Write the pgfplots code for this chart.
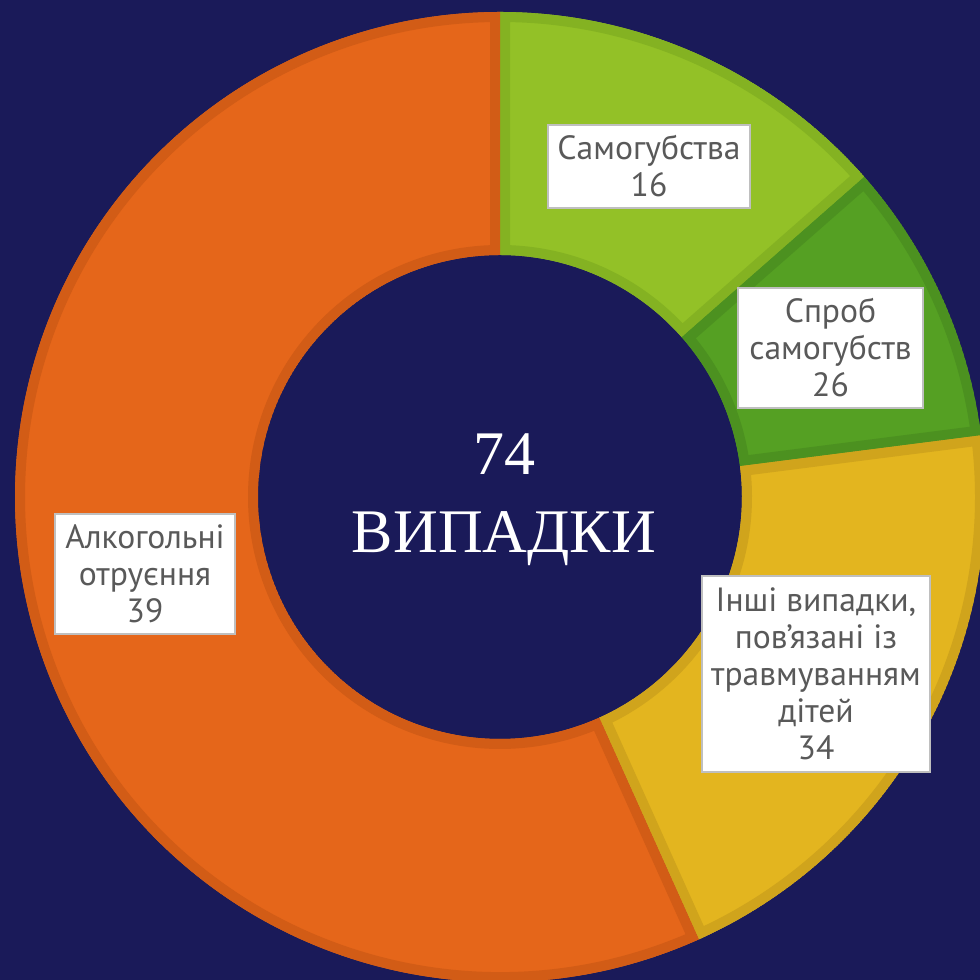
\documentclass[border=0pt]{standalone}
\usepackage{pgfplots}
\pgfplotsset{compat=1.18}
\usepackage{pgfplotstable}
\usepackage{fontspec}
\setmainfont{PT Sans}
\newfontfamily\serifcyr{Liberation Serif}

\definecolor{bgnavy}{RGB}{26,26,89}
\definecolor{orangeA}{RGB}{229,102,26}
\definecolor{orangeB}{RGB}{210,92,22}
\definecolor{limeA}{RGB}{147,193,39}
\definecolor{limeB}{RGB}{132,178,34}
\definecolor{greenA}{RGB}{85,160,35}
\definecolor{greenB}{RGB}{76,145,32}
\definecolor{yellowA}{RGB}{227,181,31}
\definecolor{yellowB}{RGB}{208,164,28}
\definecolor{labelgray}{RGB}{89,89,89}
\definecolor{boxedge}{RGB}{191,191,191}

\tikzset{lbl/.style={fill=white, draw=boxedge, line width=0.8pt, inner sep=0pt,
    align=center, text=labelgray, font=\fontsize{16.8}{18.5}\selectfont}}

% slices clockwise from 12 o'clock, angles (deg) as drawn in the picture
\pgfplotstableread{
start  end    fill     edge
90     41.3   limeA    limeB
41.3   7.3    greenA   greenB
7.3    -65.8  yellowA  yellowB
-65.8  -270   orangeA  orangeB
}\slices

% ring: centre (500,483) in axis units, 1 unit = 0.5pt
\newcommand\drawslice[4]{%
  \begin{scope}
    \clip (axis cs:500,483) ++(#1:242.5pt) arc[start angle=#1, end angle=#2, radius=242.5pt]
      -- ++(#2+180:121.5pt) arc[start angle=#2, end angle=#1, radius=121pt] -- cycle;
    \path[fill=#3, draw=#4, line width=10pt]
      (axis cs:500,483) ++(#1:242.5pt) arc[start angle=#1, end angle=#2, radius=242.5pt]
      -- ++(#2+180:121.5pt) arc[start angle=#2, end angle=#1, radius=121pt] -- cycle;
  \end{scope}}

\begin{document}
\begin{tikzpicture}
\fill[bgnavy] (0,0) rectangle (490pt,490pt);
\useasboundingbox (0,0) rectangle (490pt,490pt);
\begin{axis}[
    at={(0,0)}, anchor=south west,
    width=490pt, height=490pt, scale only axis,
    xmin=0, xmax=980, ymin=0, ymax=980,
    hide axis,
]
\pgfplotsextra{%
  \pgfplotstablegetrowsof{\slices}%
  \pgfmathtruncatemacro\nlast{\pgfplotsretval-1}%
  \pgfplotsforeachungrouped \i in {0,...,\nlast}{%
    \pgfplotstablegetelem{\i}{start}\of\slices\let\sa\pgfplotsretval
    \pgfplotstablegetelem{\i}{end}\of\slices\let\sb\pgfplotsretval
    \pgfplotstablegetelem{\i}{fill}\of\slices\let\sc\pgfplotsretval
    \pgfplotstablegetelem{\i}{edge}\of\slices\let\sd\pgfplotsretval
    \drawslice{\sa}{\sb}{\sc}{\sd}%
  }%
}

\node[lbl, minimum width=101pt, minimum height=41.5pt] at (axis cs:649,813.5) {Самогубства\\16};
\node[lbl, minimum width=92.5pt, minimum height=60pt] at (axis cs:830.5,632) {Спроб\\самогубств\\26};
\node[lbl, minimum width=114pt, minimum height=98pt] at (axis cs:816,306) {Інші випадки,\\пов’язані із\\травмуванням\\дітей\\34};
\node[lbl, minimum width=90pt, minimum height=60pt] at (axis cs:145,406) {Алкогольні\\отруєння\\39};

\node[text=white, anchor=base, font=\serifcyr\fontsize{31}{36}\selectfont] at (axis cs:504,505) {74};
\node[text=white, anchor=base, font=\serifcyr\fontsize{31}{36}\selectfont] at (axis cs:504,427) {ВИПАДКИ};
\end{axis}
\end{tikzpicture}
\end{document}
